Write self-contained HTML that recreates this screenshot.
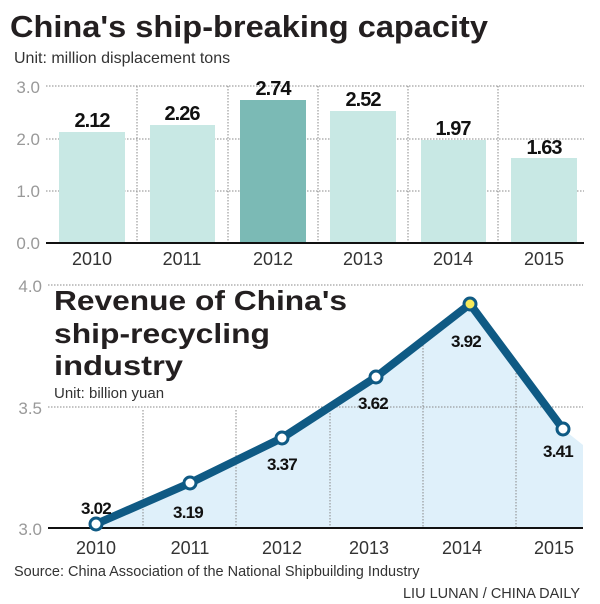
<!DOCTYPE html>
<html><head><meta charset="utf-8"><style>
body{margin:0;background:#fff;}
svg{display:block;font-family:"Liberation Sans",sans-serif;}
</style></head><body>
<svg width="600" height="604" viewBox="0 0 600 604">
<text x="10" y="37" font-size="31" font-weight="bold" fill="#231f20" textLength="478" lengthAdjust="spacingAndGlyphs">China's ship-breaking capacity</text>
<text x="14" y="63" font-size="16" fill="#333">Unit: million displacement tons</text>
<g stroke="#888" stroke-dasharray="1.5,1.5" stroke-width="1">
<line x1="46" y1="86" x2="584" y2="86"/><line x1="46" y1="139" x2="584" y2="139"/><line x1="46" y1="191" x2="584" y2="191"/>
<line x1="137" y1="86" x2="137" y2="243"/><line x1="228" y1="86" x2="228" y2="243"/><line x1="318" y1="86" x2="318" y2="243"/><line x1="408" y1="86" x2="408" y2="243"/><line x1="498" y1="86" x2="498" y2="243"/>
</g>
<g fill="#999" font-size="17" text-anchor="end">
<text x="40" y="93">3.0</text><text x="40" y="145">2.0</text><text x="40" y="197">1.0</text><text x="40" y="249">0.0</text>
</g>
<g fill="#c8e8e4">
<rect x="59" y="132" width="66" height="111"/><rect x="150" y="125" width="65" height="118"/>
<rect x="240" y="100" width="66" height="143" fill="#7bbab5"/>
<rect x="330" y="111" width="66" height="132"/><rect x="421" y="140" width="65" height="103"/><rect x="511" y="158" width="66" height="85"/>
</g>
<line x1="46" y1="243" x2="584" y2="243" stroke="#111" stroke-width="2"/>
<g font-size="20" font-weight="bold" fill="#111" text-anchor="middle" letter-spacing="-1">
<text x="92" y="127">2.12</text><text x="182" y="120">2.26</text><text x="273" y="95">2.74</text><text x="363" y="106">2.52</text><text x="453" y="135">1.97</text><text x="544" y="154">1.63</text>
</g>
<g font-size="18" fill="#333" text-anchor="middle">
<text x="92" y="265">2010</text><text x="182" y="265">2011</text><text x="273" y="265">2012</text><text x="363" y="265">2013</text><text x="453" y="265">2014</text><text x="544" y="265">2015</text>
</g>
<polygon points="96,524 190,483 282,438 376,377 470,304 563,429 583,445 583,528 96,528" fill="#dff0fa"/>
<g stroke="#888" stroke-dasharray="1.5,1.5" stroke-width="1">
<line x1="48" y1="285" x2="583" y2="285"/><line x1="48" y1="407" x2="583" y2="407"/>
<line x1="143" y1="410" x2="143" y2="528"/><line x1="236" y1="410" x2="236" y2="528"/><line x1="330" y1="410" x2="330" y2="528"/><line x1="423" y1="345" x2="423" y2="528"/><line x1="516" y1="370" x2="516" y2="528"/>
</g>
<g fill="#999" font-size="17" text-anchor="end">
<text x="42" y="292">4.0</text><text x="42" y="414">3.5</text><text x="42" y="535">3.0</text>
</g>
<line x1="48" y1="528" x2="583" y2="528" stroke="#111" stroke-width="2"/>
<polyline points="96,524 190,483 282,438 376,377 470,304 563,429" fill="none" stroke="#0f5a84" stroke-width="8" stroke-linejoin="round"/>
<g stroke="#0f5a84" stroke-width="3" fill="#fff">
<circle cx="96" cy="524" r="6"/><circle cx="190" cy="483" r="6"/><circle cx="282" cy="438" r="6"/><circle cx="376" cy="377" r="6"/><circle cx="470" cy="304" r="6" fill="#f7ea5a"/><circle cx="563" cy="429" r="6"/>
</g>
<g font-size="17" font-weight="bold" fill="#111" text-anchor="middle" letter-spacing="-0.8">
<text x="96" y="514">3.02</text><text x="188" y="518">3.19</text><text x="282" y="470">3.37</text><text x="373" y="409">3.62</text><text x="466" y="347">3.92</text><text x="558" y="457">3.41</text>
</g>
<g font-size="28" font-weight="bold" fill="#231f20">
<text x="54" y="310" textLength="293" lengthAdjust="spacingAndGlyphs">Revenue of China's</text>
<text x="54" y="343" textLength="216" lengthAdjust="spacingAndGlyphs">ship-recycling</text>
<text x="54" y="375" textLength="129" lengthAdjust="spacingAndGlyphs">industry</text>
</g>
<text x="54" y="398" font-size="15" fill="#333">Unit: billion yuan</text>
<g font-size="18" fill="#333" text-anchor="middle">
<text x="96" y="554">2010</text><text x="190" y="554">2011</text><text x="282" y="554">2012</text><text x="369" y="554">2013</text><text x="462" y="554">2014</text><text x="554" y="554">2015</text>
</g>
<text x="14" y="576" font-size="14.5" fill="#333">Source: China Association of the National Shipbuilding Industry</text>
<text x="580" y="598" font-size="14.5" fill="#333" text-anchor="end">LIU LUNAN / CHINA DAILY</text>
</svg>
</body></html>
